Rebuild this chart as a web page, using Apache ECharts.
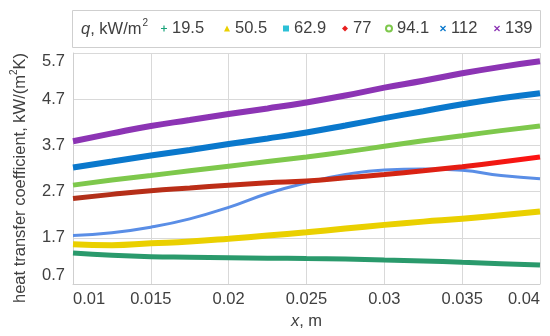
<!DOCTYPE html>
<html>
<head>
<meta charset="utf-8">
<script src="https://cdn.jsdelivr.net/npm/echarts@6/dist/echarts.min.js"></script>
<style>html,body{margin:0;padding:0;background:#fff}#c{width:550px;height:336px}</style>
</head>
<body>
<div id="c"></div>
<script>
var xValues = [0.01, 0.0125, 0.015, 0.0175, 0.02, 0.0225, 0.025, 0.0275, 0.03, 0.0325, 0.035, 0.0375, 0.04];
var seriesNames = ['19.5', '50.5', '62.9', '77', '94.1', '112', '139'];
var q19_5 = [1.37, 1.32, 1.29, 1.28, 1.27, 1.26, 1.25, 1.24, 1.22, 1.20, 1.17, 1.14, 1.11];
var q50_5 = [1.56, 1.54, 1.58, 1.62, 1.68, 1.75, 1.82, 1.90, 1.98, 2.05, 2.11, 2.19, 2.27];
var q62_9 = [1.75, 1.81, 1.93, 2.11, 2.36, 2.66, 2.89, 3.07, 3.17, 3.19, 3.16, 3.05, 2.98];
var q77 = [2.55, 2.64, 2.72, 2.78, 2.84, 2.89, 2.93, 3.00, 3.07, 3.15, 3.24, 3.34, 3.45];
var q94_1 = [2.84, 2.95, 3.05, 3.15, 3.25, 3.35, 3.45, 3.56, 3.68, 3.80, 3.91, 4.02, 4.12];
var q112 = [3.22, 3.35, 3.48, 3.60, 3.73, 3.85, 3.98, 4.13, 4.29, 4.44, 4.59, 4.72, 4.83];
var q139 = [3.79, 3.96, 4.12, 4.25, 4.38, 4.50, 4.63, 4.78, 4.95, 5.10, 5.26, 5.40, 5.52];
var yTicks = {min: 0.7, max: 5.7, step: 1};
var xTicks = {min: 0.01, max: 0.04, step: 0.005};

function pairs(ys) { return xValues.map(function (x, i) { return [x, ys[i]]; }); }

var FONT = "'Liberation Sans', Arial, sans-serif";
var FS = 16.5;
var TXT = '#404040';
var plusIcon = 'path://M4,0 L6,0 L6,4 L10,4 L10,6 L6,6 L6,10 L4,10 L4,6 L0,6 L0,4 L4,4 Z';
var xIcon = 'path://M1.5,0 L5,3.5 L8.5,0 L10,1.5 L6.5,5 L10,8.5 L8.5,10 L5,6.5 L1.5,10 L0,8.5 L3.5,5 L0,1.5 Z';
var legendCenters = [164, 227, 286, 345, 388, 443, 497];

var specs = [
  {data: q19_5, color: '#2a9a6c', item: '#1aa37a', width: 5, icon: plusIcon},
  {data: q50_5, color: '#ead000', item: '#ead000', width: 6, icon: 'triangle'},
  {data: q62_9, color: '#5a8ee6', item: '#2cc0d6', width: 3, icon: 'rect'},
  {data: q77, color: {type: 'linear', x: 0, y: 0, x2: 1, y2: 0, colorStops: [{offset: 0, color: '#b0301a'}, {offset: 0.6, color: '#c82a14'}, {offset: 1, color: '#ff1212'}]}, item: '#e82020', width: 5, icon: 'diamond'},
  {data: q94_1, color: '#7ec84c', item: '#7ec84c', width: 5, icon: 'emptyCircle'},
  {data: q112, color: '#0a78cc', item: '#0a78cc', width: 6, icon: xIcon},
  {data: q139, color: '#8c34b4', item: '#8c34b4', width: 6, icon: xIcon}
];

var series = specs.map(function (s, i) {
  return {
    name: seriesNames[i], type: 'line', smooth: true, showSymbol: false, symbol: 'none',
    data: pairs(s.data),
    lineStyle: {color: s.color, width: s.width},
    itemStyle: {color: s.item},
    emphasis: {disabled: true}
  };
});

var legends = seriesNames.map(function (n, i) {
  return {
    left: legendCenters[i] - 3, top: 20, itemWidth: 6, itemHeight: 6, padding: 0,
    data: [{name: n, icon: specs[i].icon}],
    textStyle: {fontSize: FS, fontFamily: FONT, color: TXT}
  };
});

var chart = echarts.init(document.getElementById('c'));
chart.setOption({
  animation: false,
  backgroundColor: '#fff',
  grid: {left: 73, right: 10, top: 53, bottom: 52, containLabel: false},
  graphic: [
    {type: 'rect', shape: {x: 72.5, y: 10.5, width: 468, height: 37}, style: {fill: '#fff', stroke: '#cfcfcf', lineWidth: 1}},
    {type: 'text', x: 81, y: 29, style: {
      text: '{i|q}, kW/m{s|2}', verticalAlign: 'middle', fill: TXT, font: FS + 'px ' + FONT,
      rich: {i: {fontStyle: 'italic', fontSize: FS, fontFamily: FONT, fill: TXT}, s: {fontSize: 10, verticalAlign: 'top', fontFamily: FONT, fill: TXT, padding: [0, 0, 11, 1]}}
    }},
    {type: 'text', x: 20, y: 178, rotation: Math.PI / 2, style: {
      text: 'heat transfer coefficient, kW/(m{s|2}K)', align: 'center', verticalAlign: 'middle', fill: TXT, font: FS + 'px ' + FONT,
      rich: {s: {fontSize: 10, fontFamily: FONT, fill: TXT, padding: [0, 0, 11, 0]}}
    }}
  ],
  legend: legends,
  xAxis: {
    type: 'value', min: xTicks.min, max: xTicks.max, interval: xTicks.step,
    name: '{i|x}, m', nameLocation: 'middle', nameGap: 29,
    nameTextStyle: {fontSize: FS, fontFamily: FONT, color: TXT, rich: {i: {fontStyle: 'italic', fontSize: FS, fontFamily: FONT, color: TXT}}},
    axisLine: {show: true, lineStyle: {color: '#cfcfcf'}},
    axisTick: {show: false},
    splitLine: {show: true, lineStyle: {color: '#d9d9d9'}},
    axisLabel: {fontSize: FS, fontFamily: FONT, color: TXT, margin: 7, alignMinLabel: 'left', alignMaxLabel: 'right',
      formatter: function (v) { return String(Math.round(v * 1000) / 1000); }}
  },
  yAxis: {
    type: 'value', min: yTicks.min, max: yTicks.max, interval: yTicks.step,
    axisLine: {show: true, lineStyle: {color: '#cfcfcf'}},
    axisTick: {show: false},
    splitLine: {show: true, lineStyle: {color: '#d9d9d9'}},
    axisLabel: {fontSize: FS, fontFamily: FONT, color: TXT, margin: 8,
      verticalAlignMinLabel: 'bottom', verticalAlignMaxLabel: 'top',
      formatter: function (v) { return (Math.round(v * 10) / 10).toFixed(1); }}
  },
  series: series
});
</script>
</body>
</html>
